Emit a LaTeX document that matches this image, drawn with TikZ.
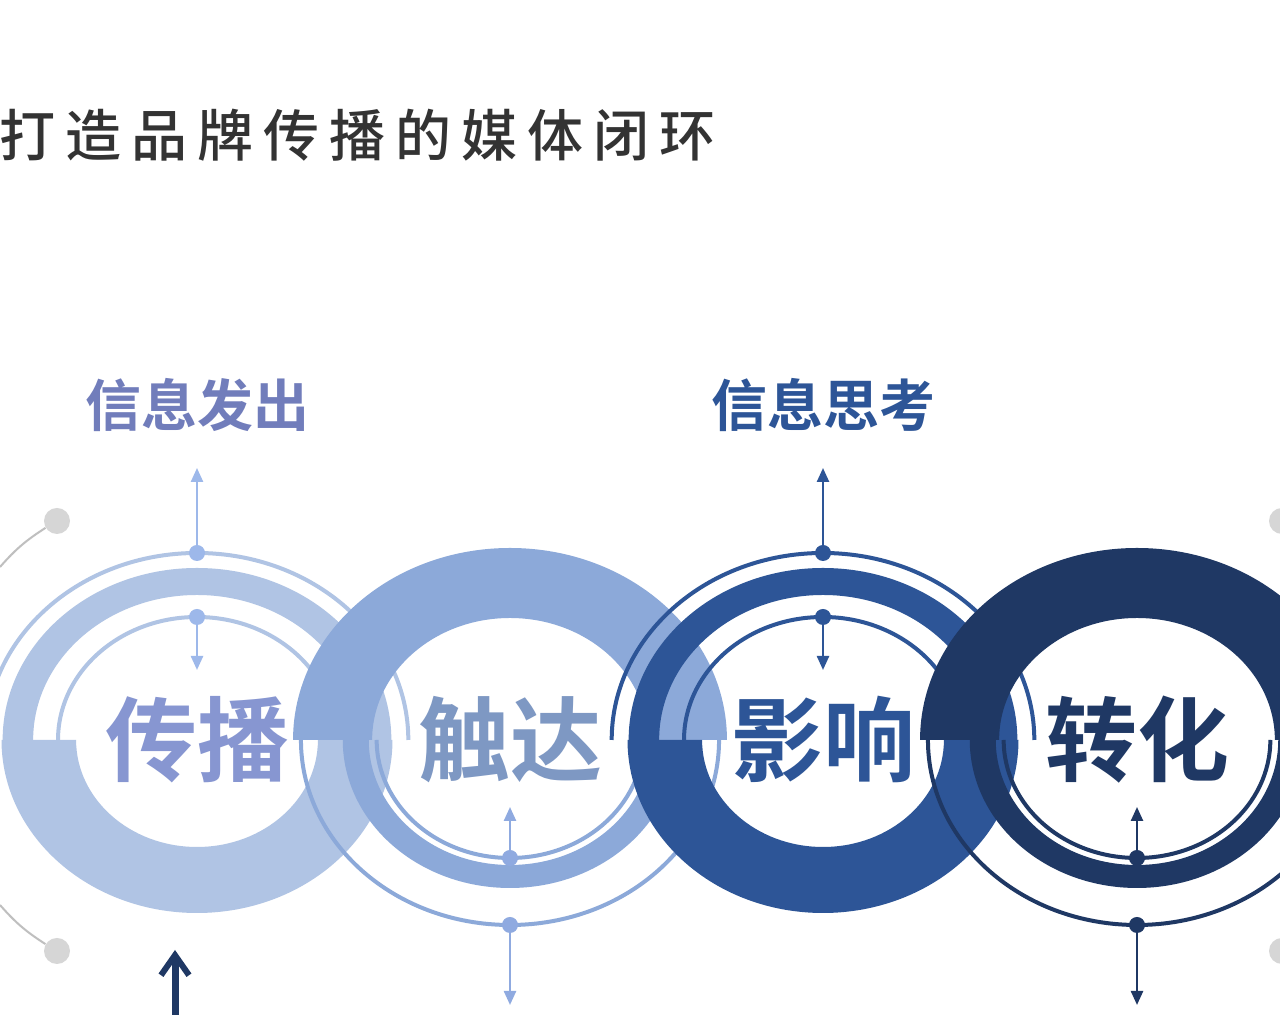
\documentclass[tikz,border=0pt]{standalone}
\usepackage{fontspec}
\newfontfamily\cjk{Noto Sans CJK SC Bold}
\newfontfamily\cjktitle[LetterSpace=18]{Noto Sans CJK SC Medium}
\usetikzlibrary{arrows.meta}
\definecolor{cA}{HTML}{B0C4E4}
\definecolor{lA}{HTML}{9DB8EA}
\definecolor{cB}{HTML}{8CA9D9}
\definecolor{lB}{HTML}{8FAAE0}
\definecolor{cC}{HTML}{2D5597}
\definecolor{lC}{HTML}{2D5597}
\definecolor{cD}{HTML}{1F3864}
\definecolor{lD}{HTML}{1F3864}
\tikzset{
  thinring/.style={line width=2pt},
  dotc/.style={circle,inner sep=0pt,minimum size=8pt},
  vconn/.style={line width=1.2pt,-{Triangle[length=7pt,width=6pt]}},
  bigtxt/.style={font=\cjk\fontsize{46}{50}\selectfont},
  lbltxt/.style={font=\cjk\fontsize{28}{30}\selectfont},
  graydot/.style={circle,fill=black!16,inner sep=0pt,minimum size=13pt},
}
% type A: top = thin rings + band, bottom = thick band
\newcommand\myringA[2]{%
  \begin{scope}[shift={#1},xscale=1.13]
    \fill[#2] (180:86.5pt) arc (180:360:86.5pt) -- (0:53.5pt) arc (360:180:53.5pt) -- cycle;
    \fill[#2] (0:86pt) arc (0:180:86pt) -- (180:72.5pt) arc (180:0:72.5pt) -- cycle;
    \draw[#2,thinring] (0:93.5pt) arc (0:180:93.5pt);
    \draw[#2,thinring] (0:61.5pt) arc (0:180:61.5pt);
  \end{scope}}
% type B: top = thick band, bottom = thin rings + band
\newcommand\myringB[2]{%
  \begin{scope}[shift={#1},xscale=1.13]
    \fill[#2] (0:96pt) arc (0:180:96pt) -- (180:61pt) arc (180:0:61pt) -- cycle;
    \fill[#2] (180:74pt) arc (180:360:74pt) -- (0:62.5pt) arc (360:180:62.5pt) -- cycle;
    \draw[#2,thinring] (180:92.5pt) arc (180:360:92.5pt);
    \draw[#2,thinring] (180:59pt) arc (180:360:59pt);
  \end{scope}}
\begin{document}
\begin{tikzpicture}[x=0.5pt,y=0.5pt]
\useasboundingbox (0,0) rectangle (1280,1015);
\fill[white!97!blue!2] (0,0) rectangle (1280,1015);
% title
\node[anchor=west,text=black!80,font=\cjktitle\fontsize{28}{30}\selectfont] (title) at (-8,880) {打造品牌传播的媒体闭环};
% gray side dots
\node[graydot] (g1) at (57,494) {};
\node[graydot] (g2) at (57,64) {};
\node[graydot] (g3) at (1282,494) {};
\node[graydot] (g4) at (1282,64) {};
\coordinate (g1e) at (0,448);
\coordinate (g2e) at (0,110);
\draw[black!25,line width=1pt] (g1) to[bend right=8] (g1e);
\draw[black!25,line width=1pt] (g2) to[bend left=8] (g2e);
% rings
\myringA{(197,275)}{cA}
\myringB{(510,275)}{cB}
\myringA{(823,275)}{cC}
\myringB{(1137,275)}{cD}
% texts
\node[bigtxt,text=cA!85!blue!90!black] (t1) at (197,275) {传播};
\node[bigtxt,text=cB!90!black] (t2) at (510,275) {触达};
\node[bigtxt,text=cC] (t3) at (823,275) {影响};
\node[bigtxt,text=cD] (t4) at (1137,275) {转化};
\node[lbltxt,text=cA!80!blue!80!black] (l1) at (197,610) {信息发出};
\node[lbltxt,text=cC] (l3) at (823,610) {信息思考};
% connectors ring 1
\node[dotc,fill=lA] (d1o) at (197,462) {};
\node[dotc,fill=lA] (d1i) at (197,398) {};
\coordinate (e1o) at (197,547);
\coordinate (e1i) at (197,345);
\draw[vconn,lA] (d1o) -- (e1o);
\draw[vconn,lA] (d1i) -- (e1i);
% ring 2
\node[dotc,fill=lB] (d2i) at (510,157) {};
\node[dotc,fill=lB] (d2o) at (510,90) {};
\coordinate (e2i) at (510,208);
\coordinate (e2o) at (510,10);
\draw[vconn,lB] (d2i) -- (e2i);
\draw[vconn,lB] (d2o) -- (e2o);
% ring 3
\node[dotc,fill=lC] (d3o) at (823,462) {};
\node[dotc,fill=lC] (d3i) at (823,398) {};
\coordinate (e3o) at (823,547);
\coordinate (e3i) at (823,345);
\draw[vconn,lC] (d3o) -- (e3o);
\draw[vconn,lC] (d3i) -- (e3i);
% ring 4
\node[dotc,fill=lD] (d4i) at (1137,157) {};
\node[dotc,fill=lD] (d4o) at (1137,90) {};
\coordinate (e4i) at (1137,208);
\coordinate (e4o) at (1137,10);
\draw[vconn,lD] (d4i) -- (e4i);
\draw[vconn,lD] (d4o) -- (e4o);
% bottom dark arrow
\coordinate (b0) at (175,-5);
\coordinate (b1) at (175,65);
\draw[cD,line width=3.5pt,-{Straight Barb[length=10pt,width=14pt,line width=3pt]}] (b0) -- (b1);
\end{tikzpicture}
\end{document}
